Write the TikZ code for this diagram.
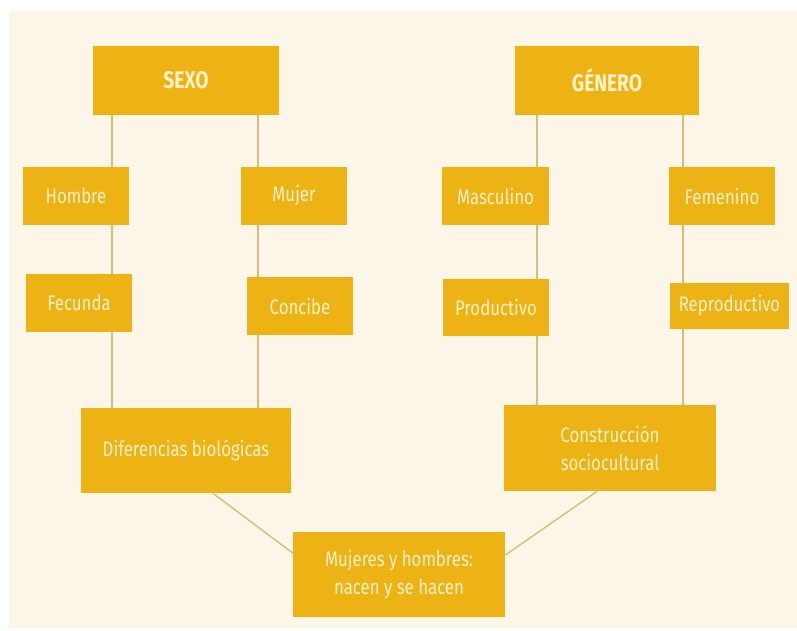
\documentclass[tikz,border=0pt]{standalone}
\usepackage{fontspec}
\setmainfont{Fira Sans}[FakeStretch=0.8]
\usetikzlibrary{backgrounds}

\definecolor{fondo}{HTML}{FCF6E8}
\definecolor{oro}{HTML}{EDB314}
\definecolor{enlace}{HTML}{D9BC7A}
\definecolor{letra}{HTML}{FDF2C8}

\tikzset{every picture/.style={line width=0.75pt}}
\tikzset{
  caja/.style={fill=oro, text=letra, inner sep=0pt, align=center,
    font=\fontsize{21}{27.5}\selectfont},
  titulo/.style={caja, font=\fontsize{24}{28}\selectfont\bfseries},
  enlace/.style={draw=enlace, line width=1.4pt}
}

\begin{document}
\begin{tikzpicture}[x=1pt, y=-1pt]
        \useasboundingbox (0,0) rectangle (797,630);
        % cajas
        \node[titulo, minimum width=186pt, minimum height=69pt] (sexo) at (186,80.5) {SEXO};
        \node[titulo, minimum width=184pt, minimum height=69pt] (genero) at (607,80.5) {GÉNERO};
        \node[caja, minimum width=106pt, minimum height=58pt] (hombre) at (76,196) {Hombre};
        \node[caja, minimum width=106pt, minimum height=58pt] (mujer) at (294,196) {Mujer};
        \node[caja, minimum width=107pt, minimum height=58pt] (masculino) at (495.5,196) {Masculino};
        \node[caja, minimum width=106pt, minimum height=58pt] (femenino) at (722,196) {Femenino};
        \node[caja, minimum width=106pt, minimum height=58pt] (fecunda) at (79,303) {Fecunda};
        \node[caja, minimum width=106pt, minimum height=58pt] (concibe) at (300,306) {Concibe};
        \node[caja, minimum width=106pt, minimum height=57pt] (productivo) at (496,307.5) {Productivo};
        \node[caja, minimum width=119pt, minimum height=46pt] (reproductivo) at (729.5,306) {Reproductivo};
        \node[caja, minimum width=210pt, minimum height=85pt] (difbio) at (186,450.5) {Diferencias biológicas};
        \node[caja, minimum width=212pt, minimum height=86pt] (constr) at (610,448) {Construcción\\sociocultural};
        \node[caja, minimum width=212pt, minimum height=85pt] (mujhom) at (399,574.5) {Mujeres y hombres:\\nacen y se hacen};
        % enlaces
        \begin{scope}[on background layer]
            \fill[fondo] (9,11) rectangle (797,628);
            \draw[enlace] ([xshift=-74pt]sexo.south) -- ([xshift=-74pt]difbio.north);
            \draw[enlace] ([xshift=72pt]sexo.south) -- ([xshift=72pt]difbio.north);
            \draw[enlace] ([xshift=-70pt]genero.south) -- ([xshift=-73pt]constr.north);
            \draw[enlace] ([xshift=76pt]genero.south) -- ([xshift=73pt]constr.north);
            \draw[enlace] ([xshift=27pt]difbio.south) -- ([yshift=21.5pt]mujhom.west);
            \draw[enlace] ([xshift=-13pt]constr.south) -- ([yshift=19.5pt]mujhom.east);
        \end{scope}
    \end{tikzpicture}
\end{document}
